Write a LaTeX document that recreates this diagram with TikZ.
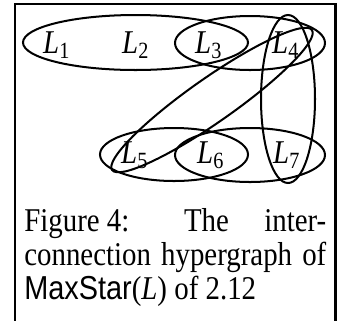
\documentclass[tikz,border=0pt]{standalone}
\usepackage{fontspec}
\setmainfont{Liberation Serif}
\setsansfont{Liberation Sans}
\usepackage{graphicx}
\usepackage{tikz}
\usetikzlibrary{positioning}
\newcommand{\tall}[1]{\scalebox{1}[1.15]{#1}}
\newcommand{\lab}[1]{\tall{\textit{L}\textsubscript{#1}}}

\begin{document}
\begin{tikzpicture}[x=0.3636pt,y=-0.3636pt,line width=0.73pt,
  font=\fontsize{10.5}{10.9}\selectfont]
\useasboundingbox (0,0) rectangle (339,320);
\draw[line width=0.9pt] (15,321) -- (15,4) -- (335.5,4) -- (335.5,321);
% vertices
\foreach \i/\x/\y in {1/57/53,2/136/53,3/209/53,4/286/53,5/135/163,6/211/163,7/287/163}
  \node[anchor=base,inner sep=0pt] (L\i) at (\x,\y) {\lab{\i}};
% hyperedges
\draw (135.5,42.5) ellipse [x radius=112.5, y radius=27.5];
\draw (250,43) ellipse [x radius=75, y radius=27];
\draw (174,154.5) ellipse [x radius=74, y radius=26.5];
\draw (250,155) ellipse [x radius=75, y radius=27];
\draw (288,99) ellipse [x radius=27, y radius=84];
\draw[rotate around={35:(212,100)}] (212,100) ellipse [x radius=122, y radius=22];
% caption
\node[anchor=base west,inner sep=0pt] (cap) at (23.3,231)
  {\tall{\parbox[t]{109.8pt}{\mbox{Figure 4:}\hspace{7pt} The inter-\linebreak
   connection hypergraph of\linebreak
   \textsf{MaxStar}(\textit{L}) of 2.12}}};
\end{tikzpicture}
\end{document}
